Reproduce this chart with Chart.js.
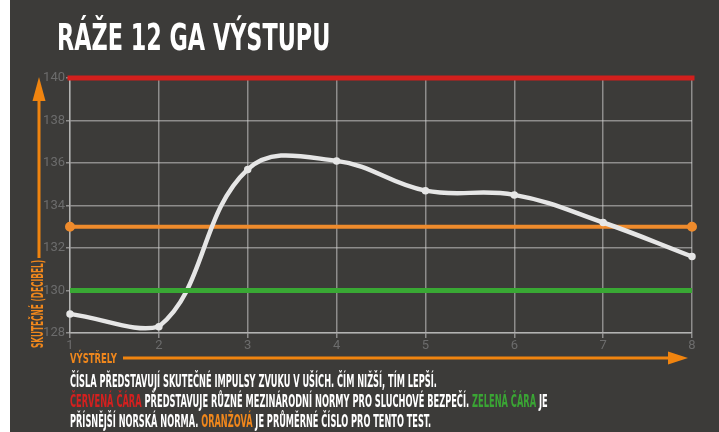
<!DOCTYPE html>
<html>
<head>
<meta charset="utf-8">
<script src="https://cdn.jsdelivr.net/npm/chart.js@4.4.1/dist/chart.umd.min.js"></script>
<style>
  html, body { margin: 0; padding: 0; }
  body { width: 719px; height: 432px; background: #ffffff; position: relative; overflow: hidden; }
  #bg { position: absolute; left: 10px; top: 0; width: 709px; height: 432px; background: #3c3b39; }
  #wrap { position: absolute; left: 0; top: 0; width: 719px; height: 432px; }
  .t { position: absolute; left: 0; top: 0; white-space: nowrap; transform-origin: left top;
       font-family: "Liberation Sans Narrow", "DejaVu Sans Condensed", "Roboto Condensed", sans-serif;
       font-weight: bold; }
  .red { color: #d4201f; }
  .green { color: #3aa534; }
  .orange { color: #f0871c; }
</style>
</head>
<body>
<div id="bg"></div>
<div id="wrap"><canvas id="c" width="719" height="432"></canvas></div>

<div class="t" id="title" style="color:#fff;font-size:38px;line-height:38px;" data-x="57" data-y="17.8" data-w="273">RÁŽE 12 GA VÝSTUPU</div>
<div class="t orange" id="xt" style="font-size:14px;line-height:14px;" data-x="70" data-y="351" data-w="47">VÝSTŘELY</div>
<div class="t orange" id="yt" style="font-size:15px;line-height:15px;" data-rot="1" data-x="30.5" data-y="348" data-w="88">SKUTEČNÉ (DECIBEL)</div>
<div class="t" id="f1" style="color:#fff;font-size:18px;line-height:18px;" data-x="70" data-y="371.5" data-w="367">ČÍSLA PŘEDSTAVUJÍ SKUTEČNÉ IMPULSY ZVUKU V UŠÍCH. ČÍM NIŽŠÍ, TÍM LEPŠÍ.</div>
<div class="t" id="f2" style="color:#fff;font-size:18px;line-height:18px;" data-x="70" data-y="391.5" data-w="478"><span class="red">ČERVENÁ ČÁRA</span> PŘEDSTAVUJE RŮZNÉ MEZINÁRODNÍ NORMY PRO SLUCHOVÉ BEZPEČÍ. <span class="green">ZELENÁ ČÁRA</span> JE</div>
<div class="t" id="f3" style="color:#fff;font-size:18px;line-height:18px;" data-x="70" data-y="411.5" data-w="361">PŘÍSNĚJŠÍ NORSKÁ NORMA. <span class="orange">ORANŽOVÁ</span> JE PRŮMĚRNÉ ČÍSLO PRO TENTO TEST.</div>

<script>
// ---- data ----
const shots = ['1', '2', '3', '4', '5', '6', '7', '8'];
const decibels = [128.9, 128.3, 135.7, 136.1, 134.7, 134.5, 133.2, 131.6];
const redNorm = 140;      // international hearing-safety norms
const averageLevel = 133; // average for this test
const greenNorm = 130;    // stricter Norwegian norm
const yTicks = [128, 130, 132, 134, 136, 138, 140];

// ---- text fitting ----
document.querySelectorAll('.t').forEach(el => {
  const w = el.offsetWidth;
  const s = parseFloat(el.dataset.w) / w;
  const x = parseFloat(el.dataset.x), y = parseFloat(el.dataset.y);
  if (el.dataset.rot) {
    el.style.transform = `translate(${x}px, ${y}px) rotate(-90deg) scaleX(${s})`;
  } else {
    el.style.transform = `translate(${x}px, ${y}px) scaleX(${s})`;
  }
});

const arrows = {
  id: 'arrows',
  afterDraw(chart) {
    const ctx = chart.ctx;
    ctx.save();
    ctx.strokeStyle = '#f0840f';
    ctx.fillStyle = '#f0840f';
    ctx.lineWidth = 3;
    // y arrow
    ctx.beginPath(); ctx.moveTo(39, 258); ctx.lineTo(39, 96); ctx.stroke();
    ctx.beginPath(); ctx.moveTo(32.5, 101); ctx.lineTo(45.5, 101); ctx.lineTo(39, 77); ctx.closePath(); ctx.fill();
    // x arrow
    ctx.beginPath(); ctx.moveTo(123, 358); ctx.lineTo(672, 358); ctx.stroke();
    ctx.beginPath(); ctx.moveTo(668, 351.5); ctx.lineTo(668, 364.5); ctx.lineTo(688, 358); ctx.closePath(); ctx.fill();
    ctx.restore();
  }
};

const gridColor = 'rgba(210,210,210,0.55)';
const tickFont = { family: 'Roboto, "Liberation Sans", sans-serif', size: 13 };
const endsOnly = r => ctx => (ctx.dataIndex === 0 || ctx.dataIndex === shots.length - 1) ? r : 0;

new Chart(document.getElementById('c'), {
  type: 'line',
  data: {
    labels: shots,
    datasets: [
      { data: shots.map(() => greenNorm), borderColor: '#39a834', backgroundColor: '#39a834', borderWidth: 5, pointRadius: 0, order: 1, clip: false },
      { data: decibels, borderColor: '#e6e6e6', backgroundColor: '#e6e6e6', borderWidth: 4.5, tension: 0.4, pointRadius: 1.5, order: 2, clip: false },
      { data: shots.map(() => averageLevel), borderColor: '#ef8b2c', backgroundColor: '#ef8b2c', borderWidth: 4, pointRadius: endsOnly(3), order: 3, clip: false },
      { data: shots.map(() => redNorm), borderColor: '#d21f1d', backgroundColor: '#d21f1d', borderWidth: 5, pointRadius: 0, borderCapStyle: 'square', order: 0, clip: false }
    ]
  },
  options: {
    responsive: false,
    animation: false,
    events: [],
    layout: { padding: { top: 78, right: 27, left: 0, bottom: 0 } },
    plugins: { legend: { display: false }, tooltip: { enabled: false } },
    scales: {
      x: {
        grid: { color: gridColor, lineWidth: 1.5, tickLength: 5 },
        border: { color: gridColor, width: 1.5 },
        ticks: { color: '#6c6c6c', font: tickFont, padding: 0, maxRotation: 0 },
        afterFit(scale) { scale.height = 99; }
      },
      y: {
        min: 128, max: 140,
        afterBuildTicks(scale) { scale.ticks = yTicks.map(v => ({ value: v })); },
        grid: { color: gridColor, lineWidth: 1.5, tickLength: 4 },
        border: { color: gridColor, width: 1.5 },
        ticks: { color: '#6c6c6c', font: tickFont, padding: 1 },
        afterFit(scale) { scale.width = 70; }
      }
    }
  },
  plugins: [arrows]
});
</script>
</body>
</html>
